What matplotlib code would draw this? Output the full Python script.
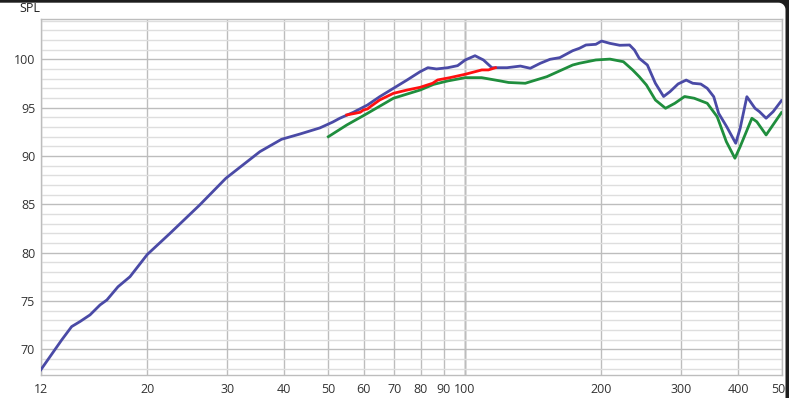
import numpy as np
import matplotlib
matplotlib.use("Agg")
import matplotlib.pyplot as plt
from matplotlib.path import Path
from matplotlib.patches import PathPatch
from matplotlib.ticker import FixedLocator, NullFormatter

# Frequenzgang-Daten (Hz, dB)
blau_f = [11.65, 12.96, 13.63, 14.22, 14.96, 15.74, 16.3, 17.24, 18.32, 20.0,
          22.4, 26.1, 29.8, 35.4, 39.5, 43.4, 48.0, 51.2, 53.1, 56.9,
          61.1, 65.0, 69.7, 74.7, 79.8, 83.0, 86.7, 91.8, 96.5, 100.3,
          105.4, 110.0, 114.8, 119.8, 124.0, 132.7, 139.5, 146.8, 154.2, 162.0,
          173.0, 179.0, 185.0, 194.5, 200.3, 208.9, 219.6, 230.8, 236.6, 242.4,
          252.6, 263.1, 274.3, 283.3, 295.2, 307.6, 318.0, 331.2, 342.2, 353.7,
          362.6, 378.0, 395.4, 404.4, 418.4, 436.0, 446.0, 461.3, 478.0, 498.6]
blau_db = [67.85, 70.96, 72.34, 72.86, 73.55, 74.58, 75.1, 76.46, 77.5, 79.8,
           81.95, 84.93, 87.69, 90.44, 91.72, 92.27, 92.9, 93.5, 93.9, 94.52,
           95.27, 96.13, 97.0, 97.86, 98.72, 99.13, 99.0, 99.13, 99.34, 99.93,
           100.37, 99.93, 99.13, 99.13, 99.13, 99.3, 99.07, 99.59, 100.0, 100.17,
           100.89, 101.14, 101.48, 101.55, 101.89, 101.65, 101.45, 101.48, 100.96, 100.1,
           99.41, 97.52, 96.15, 96.65, 97.45, 97.85, 97.52, 97.44, 97.0, 96.13,
           94.41, 93.0, 91.31, 92.86, 96.13, 94.93, 94.58, 93.9, 94.58, 95.72]

gruen_f = [50.1, 55.0, 61.1, 69.7, 79.8, 85.4, 91.8, 100.3, 109.0, 119.8,
           125.0, 136.0, 151.7, 173.0, 179.0, 194.5, 208.9, 223.7, 234.4, 242.4,
           251.4, 263.1, 277.0, 290.4, 305.1, 320.3, 342.2, 359.9, 377.0, 393.8,
           404.4, 429.2, 440.0, 461.3, 498.6]
gruen_db = [91.99, 93.2, 94.41, 95.97, 96.82, 97.4, 97.76, 98.1, 98.1, 97.76,
            97.6, 97.52, 98.2, 99.41, 99.59, 99.93, 100.02, 99.75, 98.9, 98.2,
            97.34, 95.79, 94.93, 95.45, 96.15, 95.97, 95.45, 94.06, 91.48, 89.76,
            90.96, 93.9, 93.54, 92.17, 94.48]

rot_f = [55.0, 57.4, 58.9, 59.9, 61.1, 62.0, 65.0, 69.7, 74.7, 79.8,
         85.0, 87.2, 92.8, 100.3, 109.1, 112.8, 116.9]
rot_db = [94.24, 94.41, 94.52, 94.76, 94.86, 95.1, 95.79, 96.48, 96.82, 97.1,
          97.52, 97.86, 98.1, 98.45, 98.9, 98.9, 99.13]

x_ticks = [11.65, 20, 30, 40, 50, 60, 70, 80, 90, 100, 200, 300, 400, 500]
x_labels = ["12", "20", "30", "40", "50", "60", "70", "80", "90", "100", "200", "300", "400", "500"]
y_ticks = [70, 75, 80, 85, 90, 95, 100]

W, H = 789, 398
plt.rcParams['font.family'] = ['Open Sans', 'DejaVu Sans']

fig = plt.figure(figsize=(W / 100, H / 100), dpi=100)
fig.patch.set_facecolor("white")
ax = fig.add_axes([40.7 / W, (H - 375) / H, (782 - 40.7) / W, (375 - 19) / H])

ax.set_xscale("log")
ax.set_xlim(11.65, 500)
ax.set_ylim(67.33, 104.17)

# Gitter
ax.xaxis.set_major_locator(FixedLocator(x_ticks))
ax.xaxis.set_minor_locator(FixedLocator([]))
ax.set_xticklabels(x_labels)
ax.xaxis.set_minor_formatter(NullFormatter())
ax.set_yticks(y_ticks)
ax.set_yticks(np.arange(68, 105, 1), minor=True)
ax.grid(True, which="minor", axis="y", color="#dedede", lw=1)
ax.grid(True, which="major", axis="y", color="#bdbdbd", lw=1)
ax.grid(True, which="major", axis="x", color="#bdbdbd", lw=1)
ax.axvline(100, color="#7a7a7a", lw=1, zorder=1.5)
ax.tick_params(which="both", length=0, labelsize=9, colors="#333333")
ax.tick_params(axis="x", pad=6)
ax.tick_params(axis="y", pad=4)
for s in ax.spines.values():
    s.set_color("#bdbdbd")
    s.set_linewidth(1)

ax.plot(gruen_f, gruen_db, color="#1f8e3d", lw=2, zorder=3)
ax.plot(blau_f, blau_db, color="#4a4aa6", lw=2, zorder=3)
ax.plot(rot_f, rot_db, color="#ff1010", lw=2, zorder=4)

fig.text(19 / W, 1 - 8.5 / H, "SPL", fontsize=9, color="#222222", va="center", ha="left")

# dunkler Rahmen mit abgerundeter Ecke oben
r = 7
x0, x1, y0, y1 = -20, 785.5, -20, H - 2.7
t = np.linspace(0, np.pi / 2, 12)
innen = [(x0, y0), (x1, y0)]
innen += [(x1 - r + r * np.cos(a), y1 - r + r * np.sin(a)) for a in t]
innen += [(x0 + r - r * np.sin(a), y1 - r + r * np.cos(a)) for a in t]
innen.append((x0, y0))
aussen = [(-30, -30), (-30, H + 30), (W + 30, H + 30), (W + 30, -30), (-30, -30)]
verts = [(px / W, py / H) for px, py in aussen + innen]
codes = ([Path.MOVETO] + [Path.LINETO] * (len(aussen) - 2) + [Path.CLOSEPOLY]
         + [Path.MOVETO] + [Path.LINETO] * (len(innen) - 2) + [Path.CLOSEPOLY])
rahmen = PathPatch(Path(verts, codes), facecolor="#1e1e1e", edgecolor="none",
                   transform=fig.transFigure, zorder=100)
fig.add_artist(rahmen)

fig.savefig("out.png", dpi=100)
